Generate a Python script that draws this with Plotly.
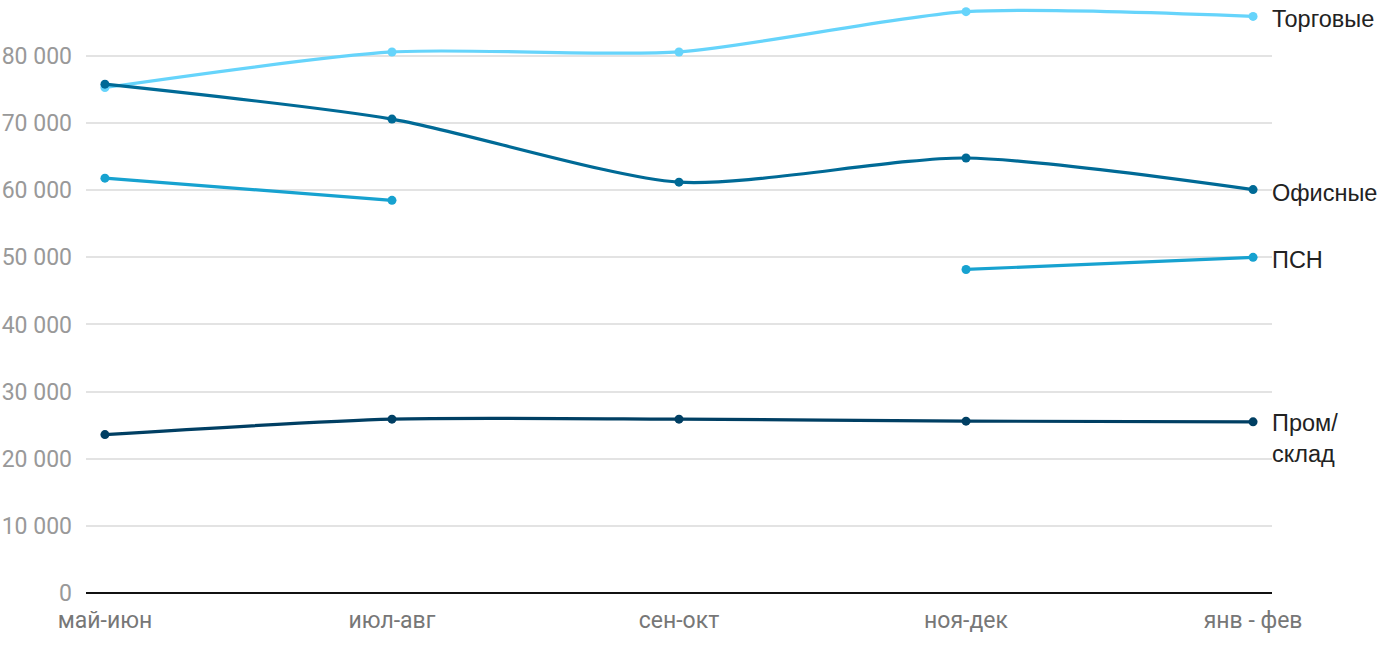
import plotly.graph_objects as go

categories = ["май-июн", "июл-авг", "сен-окт", "ноя-дек", "янв - фев"]
torgovye = [75300, 80600, 80600, 86600, 85900]
ofisnye = [75800, 70600, 61200, 64800, 60100]
psn = [61800, 58500, None, 48200, 50000]
prom = [23600, 25900, 25900, 25600, 25500]

y_ticks = [0, 10000, 20000, 30000, 40000, 50000, 60000, 70000, 80000]
y_tick_text = ["0", "10 000", "20 000", "30 000", "40 000", "50 000", "60 000", "70 000", "80 000"]

series = [
    ("Торговые", torgovye, "#66d4fb"),
    ("ПСН", psn, "#17a2d0"),
    ("Офисные", ofisnye, "#006a96"),
    ("Пром/<br>склад", prom, "#003f63"),
]

x = list(range(len(categories)))
fig = go.Figure()
for name, vals, col in series:
    fig.add_trace(go.Scatter(
        x=x, y=vals, mode="lines+markers", name=name,
        line=dict(color=col, width=3.2, shape="spline", smoothing=0.7),
        marker=dict(color=col, size=9),
        connectgaps=False, showlegend=False, cliponaxis=False,
        hoverinfo="skip",
    ))

for name, vals, col in series:
    if name.startswith("Пром"):
        fig.add_annotation(x=x[-1], y=vals[-1], text=name, showarrow=False,
                           xanchor="left", yanchor="top", xshift=17, yshift=14,
                           align="left",
                           font=dict(family="Liberation Sans", size=23.5, color="#222222"))
    else:
        fig.add_annotation(x=x[-1], y=vals[-1], text=name, showarrow=False,
                           xanchor="left", yanchor="middle", xshift=17, yshift=-3,
                           align="left",
                           font=dict(family="Liberation Sans", size=23.5, color="#222222"))

fig.update_layout(
    width=1400, height=650,
    margin=dict(l=86, r=128, t=0, b=57),
    plot_bgcolor="white", paper_bgcolor="white",
    xaxis=dict(
        tickmode="array", tickvals=x, ticktext=categories,
        range=[-0.066, 4.066], showgrid=False, zeroline=False,
        showline=False, automargin=False,
        tickfont=dict(family="Roboto", size=23, color="#777777"),
        ticks="", ticklabelstandoff=11,
    ),
    yaxis=dict(
        range=[0, 88340], tickmode="array", tickvals=y_ticks, ticktext=y_tick_text,
        showgrid=True, gridcolor="#e3e3e3", gridwidth=1.5, automargin=False,
        zeroline=True, zerolinecolor="#111111", zerolinewidth=2,
        tickfont=dict(family="Roboto", size=23, color="#999999"),
        ticks="", ticklabelstandoff=13,
    ),
)

fig.write_html("out.html", config={"displayModeBar": False},
               post_script="document.body.style.margin='0px';")
